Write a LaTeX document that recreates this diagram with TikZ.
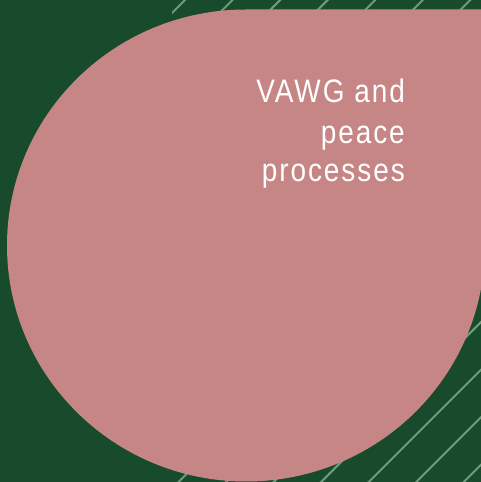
\documentclass[tikz,border=0pt]{standalone}
\usepackage{fontspec}
\setmainfont[FakeStretch=0.86,LetterSpace=6]{Liberation Sans}
\definecolor{bggreen}{RGB}{24,74,44}
\definecolor{petal}{RGB}{198,134,134}
\definecolor{hatch}{RGB}{112,154,128}
\tikzset{
  titleline/.style={anchor=base east, inner sep=0pt, text=white, font=\fontsize{32.5pt}{40pt}\selectfont},
  hatchline/.style={draw=hatch, line width=2pt}
}
\begin{document}
\begin{tikzpicture}[x=1pt,y=1pt]
\clip (0,0) rectangle (481,482);
\useasboundingbox (0,0) rectangle (481,482);
\fill[bggreen] (0,0) rectangle (481,482);
\begin{scope}
  \clip (172,0) rectangle (481,482);
  \foreach \k in {0,...,16}{
    \pgfmathsetmacro{\c}{185+47.55*\k}
    \draw[hatchline] (0,{482-\c}) -- (700,{1182-\c});
  }
\end{scope}
\fill[petal] (246,472.5) -- (490,472.5) -- (490,236.5)
  -- (485,236.5) arc[start angle=0, end angle=-270, x radius=239, y radius=236] -- cycle;
\node[titleline] (t1) at (405,379) {VAWG and};
\node[titleline] (t2) at (405,338) {peace};
\node[titleline] (t3) at (405,300) {processes};
\end{tikzpicture}
\end{document}
